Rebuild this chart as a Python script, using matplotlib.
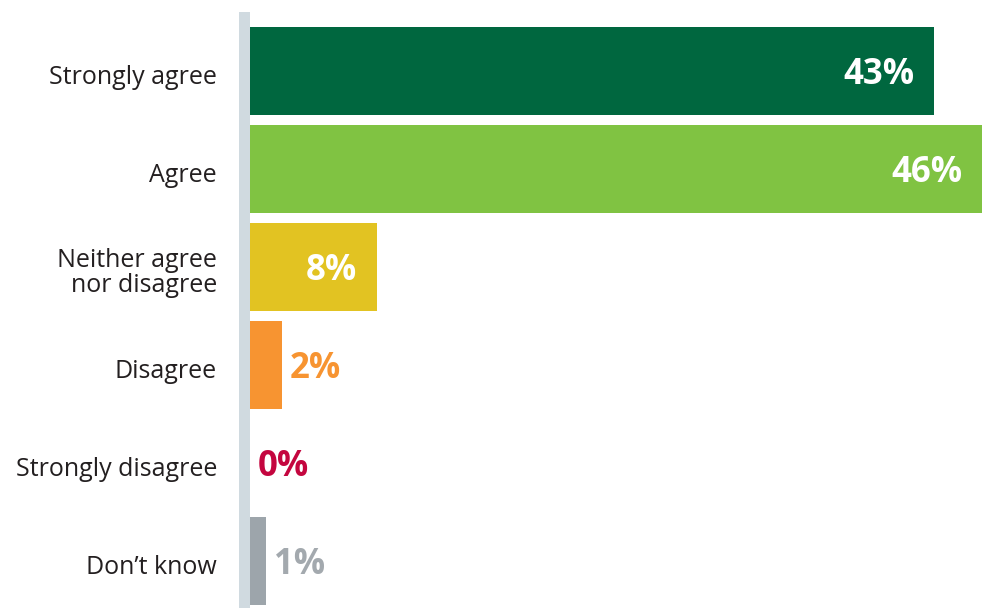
import matplotlib.pyplot as plt
from matplotlib.patches import Rectangle

categories = ["Strongly agree", "Agree", "Neither agree\nnor disagree",
              "Disagree", "Strongly disagree", "Don\u2019t know"]
values = [43, 46, 8, 2, 0, 1]
colors = ["#00673F", "#80C342", "#E2C322", "#F79431", "#C4063F", "#9DA5AB"]
label_colors = ["white", "white", "white", "#F79431", "#C4063F", "#A3A9AE"]
inside = [True, True, True, False, False, False]

plt.rcParams['font.family'] = ['Open Sans', 'DejaVu Sans']

W, H = 982, 608
fig = plt.figure(figsize=(W / 100, H / 100), dpi=100)
ax = fig.add_axes([250 / W, -2 / H, 732 / W, 588 / H])

y = list(range(len(categories)))
ax.barh(y, values, height=0.9, color=colors)
ax.set_xlim(0, 46)
ax.set_ylim(len(categories) - 0.5, -0.5)
ax.axis('off')

# category labels
for yi, cat in zip(y, categories):
    ax.annotate(cat, xy=(0, yi), xytext=(-33, -6), textcoords='offset pixels',
                ha='right', va='center', fontsize=18, color='#231F20',
                linespacing=0.95)

# value labels
for yi, v, c, ins in zip(y, values, label_colors, inside):
    if ins:
        ax.annotate(f"{v}%", xy=(v, yi), xytext=(-20, -4), textcoords='offset pixels',
                    ha='right', va='center', fontsize=25, fontweight='bold', color=c)
    else:
        ax.annotate(f"{v}%", xy=(v, yi), xytext=(8, -4), textcoords='offset pixels',
                    ha='left', va='center', fontsize=25, fontweight='bold', color=c)

# light gray axis bar
fig.add_artist(Rectangle((239 / W, 0), 11 / W, (608 - 12) / H,
                         transform=fig.transFigure, color='#D0DAE0', lw=0))

fig.savefig("out.png", dpi=100)
